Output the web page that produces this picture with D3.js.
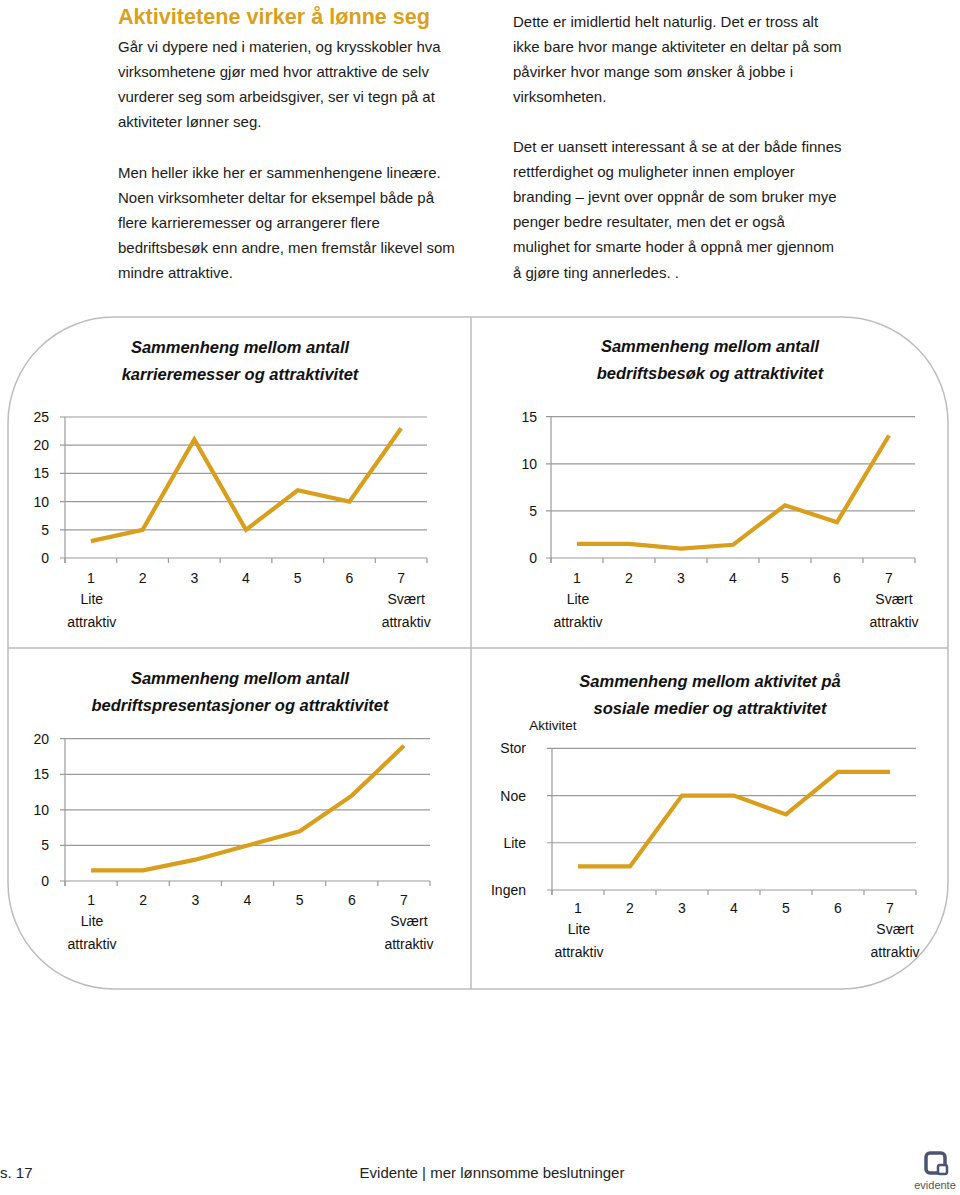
<!DOCTYPE html>
<html><head><meta charset="utf-8">
<script src="https://cdn.jsdelivr.net/npm/d3@7"></script>
<style>
html,body{margin:0;padding:0;background:#fff;}
svg{display:block;font-family:"Liberation Sans",Arial,sans-serif;}
</style></head>
<body>
<svg id="page" width="960" height="1195"></svg>
<script>
// ---- data ----
const categories = ["1","2","3","4","5","6","7"];
const karrieremesser = [3, 5, 21, 5, 12, 10, 23];
const bedriftsbesok = [1.5, 1.5, 1.0, 1.4, 5.6, 3.8, 13];
const bedriftspresentasjoner = [1.5, 1.5, 3, 5, 7, 12, 19];
const sosialeMedier = [0.5, 0.5, 2, 2, 1.6, 2.5, 2.5];
const ticksKarriere = [0, 5, 10, 15, 20, 25];
const ticksBesok = [0, 5, 10, 15];
const ticksPresentasjoner = [0, 5, 10, 15, 20];
const activityLevels = ["Ingen", "Lite", "Noe", "Stor"];
const lowLabel = ["Lite", "attraktiv"];
const highLabel = ["Svært", "attraktiv"];

const leftText = {
  title: "Aktivitetene virker å lønne seg",
  lines: ["Går vi dypere ned i materien, og krysskobler hva",
    "virksomhetene gjør med hvor attraktive de selv",
    "vurderer seg som arbeidsgiver, ser vi tegn på at",
    "aktiviteter lønner seg.",
    "",
    "Men heller ikke her er sammenhengene lineære.",
    "Noen virksomheter deltar for eksempel både på",
    "flere karrieremesser og arrangerer flere",
    "bedriftsbesøk enn andre, men fremstår likevel som",
    "mindre attraktive."]
};
const rightLines = ["Dette er imidlertid helt naturlig. Det er tross alt",
  "ikke bare hvor mange aktiviteter en deltar på som",
  "påvirker hvor mange som ønsker å jobbe i",
  "virksomheten.",
  "",
  "Det er uansett interessant å se at der både finnes",
  "rettferdighet og muligheter innen employer",
  "branding – jevnt over oppnår de som bruker mye",
  "penger bedre resultater, men det er også",
  "mulighet for smarte hoder å oppnå mer gjennom",
  "å gjøre ting annerledes. ."];

const svg = d3.select("#page");
const GOLD = "#D9A11C";
const LINE = "#D99E1B";

// ---- text columns ----
svg.append("text").attr("x", 118).attr("y", 24)
  .attr("font-size", 21.6).attr("font-weight", "bold").attr("fill", GOLD)
  .text(leftText.title);
leftText.lines.forEach((l, i) => {
  svg.append("text").attr("x", 118).attr("y", 52 + i * 25.1)
    .attr("font-size", 15).attr("fill", "#1a1a1a").text(l);
});
rightLines.forEach((l, i) => {
  svg.append("text").attr("x", 513).attr("y", 26.5 + i * 25.1)
    .attr("font-size", 15).attr("fill", "#1a1a1a").text(l);
});

// ---- frame ----
const fx0 = 8, fx1 = 948, fy0 = 317, fy1 = 989, R = 106;
svg.append("rect").attr("x", fx0).attr("y", fy0)
  .attr("width", fx1 - fx0).attr("height", fy1 - fy0)
  .attr("rx", R).attr("ry", R)
  .attr("fill", "none").attr("stroke", "#bdbdbd").attr("stroke-width", 1.5);
svg.append("line").attr("x1", 471).attr("x2", 471).attr("y1", fy0).attr("y2", fy1)
  .attr("stroke", "#bdbdbd").attr("stroke-width", 1.5);
svg.append("line").attr("x1", fx0).attr("x2", fx1).attr("y1", 648).attr("y2", 648)
  .attr("stroke", "#bdbdbd").attr("stroke-width", 1.5);

// ---- charts ----
function drawChart(cfg) {
  const g = svg.append("g");
  const x = d3.scaleBand().domain(categories).range([cfg.left, cfg.right]).padding(0);
  const y = d3.scaleLinear().domain(cfg.domain).range([cfg.bottom, cfg.top]);
  const cx = d => x(d) + x.bandwidth() / 2;

  cfg.title.forEach((t, i) => {
    g.append("text").attr("x", cfg.titleX).attr("y", cfg.titleY + i * 27)
      .attr("text-anchor", "middle").attr("font-size", 16.5)
      .attr("font-weight", "bold").attr("font-style", "italic").attr("fill", "#111")
      .text(t);
  });

  g.selectAll("line.grid").data(cfg.ticks).join("line")
    .attr("x1", cfg.left - 5).attr("x2", cfg.right)
    .attr("y1", d => y(d)).attr("y2", d => y(d))
    .attr("stroke", "#9a9a9a").attr("stroke-width", 1.2);
  g.append("line").attr("x1", cfg.left).attr("x2", cfg.left)
    .attr("y1", cfg.top).attr("y2", cfg.bottom + 5)
    .attr("stroke", "#9a9a9a").attr("stroke-width", 1.2);
  const bounds = categories.map(c => x(c)).concat([cfg.right]);
  g.selectAll("line.xt").data(bounds).join("line")
    .attr("x1", d => d).attr("x2", d => d)
    .attr("y1", cfg.bottom).attr("y2", cfg.bottom + 5)
    .attr("stroke", "#9a9a9a").attr("stroke-width", 1.2);

  g.selectAll("text.yl").data(cfg.ticks).join("text")
    .attr("x", cfg.left - cfg.yLabelGap).attr("y", d => y(d) + 5)
    .attr("text-anchor", "end").attr("font-size", 14).attr("fill", "#111")
    .text((d, i) => cfg.tickText ? cfg.tickText[i] : d);

  g.selectAll("text.xl").data(categories).join("text")
    .attr("x", d => cx(d)).attr("y", cfg.bottom + cfg.xLabelDy)
    .attr("text-anchor", "middle").attr("font-size", 14).attr("fill", "#111")
    .text(d => d);
  lowLabel.forEach((t, i) => {
    g.append("text").attr("x", cx(categories[0]) + 1).attr("y", cfg.bottom + cfg.xLabelDy + 21 + i * 23)
      .attr("text-anchor", "middle").attr("font-size", 14).attr("fill", "#111").text(t);
  });
  highLabel.forEach((t, i) => {
    g.append("text").attr("x", cx(categories[6]) + 5).attr("y", cfg.bottom + cfg.xLabelDy + 21 + i * 23)
      .attr("text-anchor", "middle").attr("font-size", 14).attr("fill", "#111").text(t);
  });

  const line = d3.line().x((d, i) => cx(categories[i])).y(d => y(d));
  g.append("path").datum(cfg.values).attr("d", line)
    .attr("fill", "none").attr("stroke", LINE).attr("stroke-width", 4.2)
    .attr("stroke-linejoin", "miter").attr("stroke-linecap", "butt");
  return g;
}

drawChart({
  title: ["Sammenheng mellom antall", "karrieremesser og attraktivitet"],
  titleX: 240, titleY: 353,
  left: 65, right: 427, top: 417, bottom: 558,
  domain: [0, 25], ticks: ticksKarriere, values: karrieremesser,
  yLabelGap: 16, xLabelDy: 25
});
drawChart({
  title: ["Sammenheng mellom antall", "bedriftsbesøk og attraktivitet"],
  titleX: 710, titleY: 352,
  left: 551, right: 915, top: 416.7, bottom: 558,
  domain: [0, 15], ticks: ticksBesok, values: bedriftsbesok,
  yLabelGap: 14, xLabelDy: 25
});
drawChart({
  title: ["Sammenheng mellom antall", "bedriftspresentasjoner og attraktivitet"],
  titleX: 240, titleY: 684,
  left: 65, right: 430, top: 738.7, bottom: 881,
  domain: [0, 20], ticks: ticksPresentasjoner, values: bedriftspresentasjoner,
  yLabelGap: 16, xLabelDy: 24
});
const c4 = drawChart({
  title: ["Sammenheng mellom aktivitet på", "sosiale medier og attraktivitet"],
  titleX: 710, titleY: 687,
  left: 552, right: 916, top: 748.3, bottom: 890,
  domain: [0, 3], ticks: [0, 1, 2, 3], tickText: activityLevels, values: sosialeMedier,
  yLabelGap: 26, xLabelDy: 23
});
c4.append("text").attr("x", 553).attr("y", 730).attr("text-anchor", "middle")
  .attr("font-size", 13.5).attr("fill", "#111").text("Aktivitet");

// ---- footer ----
svg.append("text").attr("x", 0).attr("y", 1178).attr("font-size", 15)
  .attr("font-family", "'Liberation Sans Narrow','Arial Narrow',sans-serif").attr("fill", "#222").text("s. 17");
svg.append("text").attr("x", 492).attr("y", 1178).attr("text-anchor", "middle").attr("font-size", 15)
  .attr("font-family", "'Liberation Sans Narrow','Arial Narrow',sans-serif").attr("fill", "#222")
  .text("Evidente | mer lønnsomme beslutninger");
const logo = svg.append("g");
logo.append("rect").attr("x", 926).attr("y", 1153).attr("width", 19).attr("height", 20)
  .attr("rx", 4).attr("fill", "none").attr("stroke", "#4b5572").attr("stroke-width", 3.5);
logo.append("rect").attr("x", 938).attr("y", 1165).attr("width", 9).attr("height", 9)
  .attr("rx", 2).attr("fill", "#fff").attr("stroke", "#4b5572").attr("stroke-width", 2.5);
logo.append("text").attr("x", 935).attr("y", 1189).attr("text-anchor", "middle")
  .attr("font-size", 11).attr("fill", "#555").text("evidente");
</script>
</body></html>
